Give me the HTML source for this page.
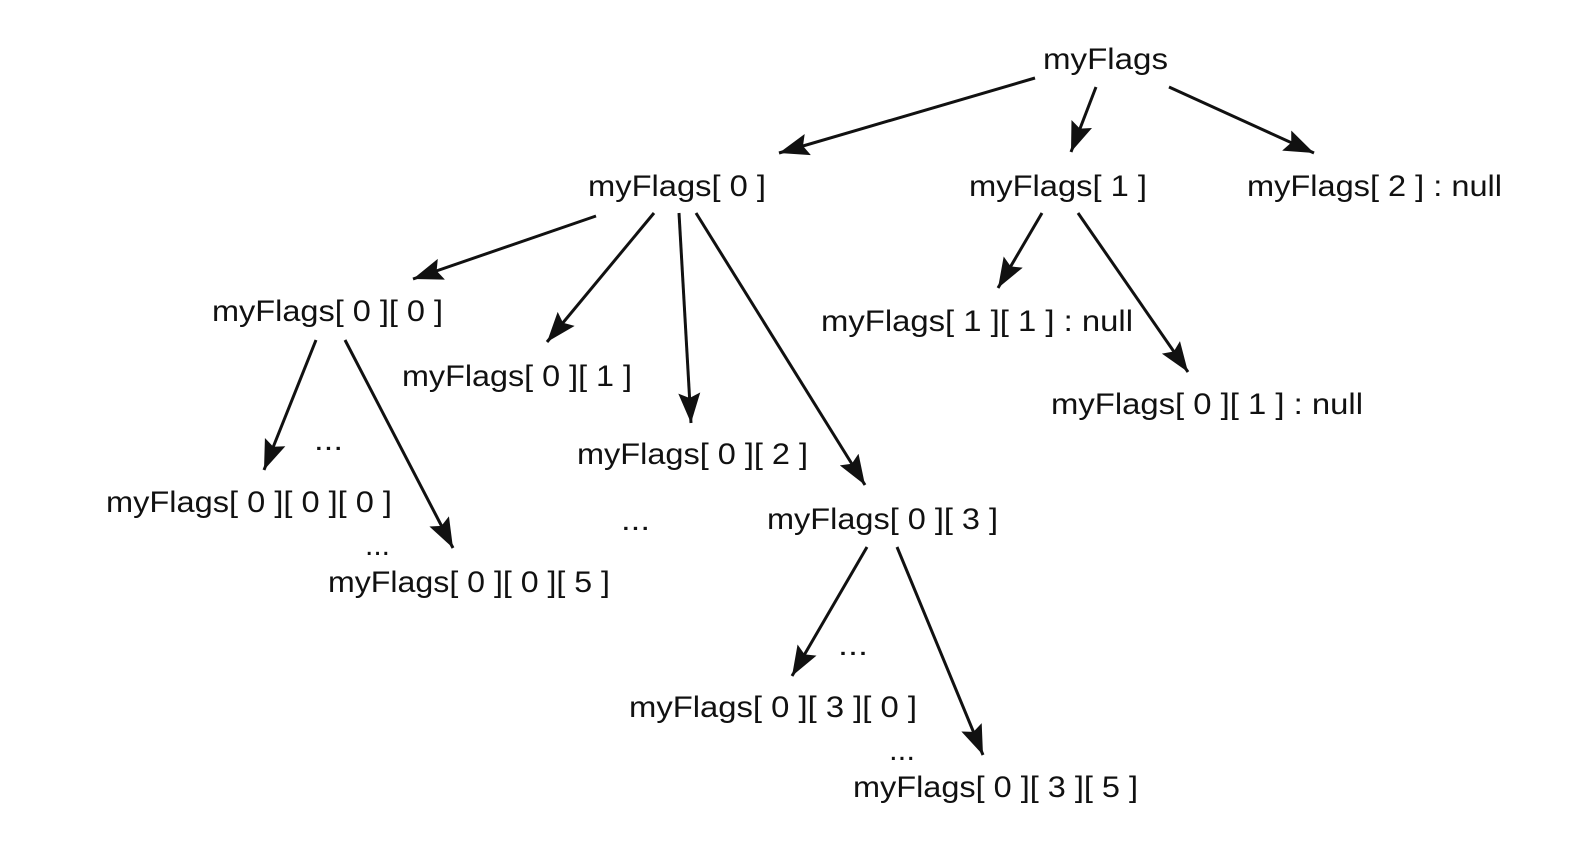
<!DOCTYPE html>
<html><head><meta charset="utf-8"><style>
html,body{margin:0;padding:0;background:#fff;}
svg{display:block;}
text{font-family:"Liberation Sans",Arial,sans-serif;font-size:30px;fill:#111;}
</style></head><body>
<svg width="1591" height="845" viewBox="0 0 1591 845" xmlns="http://www.w3.org/2000/svg">
<defs>
<marker id="a" markerUnits="userSpaceOnUse" markerWidth="34" markerHeight="24" refX="30" refY="11" orient="auto">
<path d="M0,0 L30,11 L0,22 L5,11 Z" fill="#111"/>
</marker>
</defs>
<g stroke="#111" stroke-width="3" marker-end="url(#a)">
<line x1="1035" y1="78" x2="779" y2="153"/>
<line x1="1096" y1="87" x2="1071" y2="152"/>
<line x1="1169" y1="87" x2="1314" y2="153"/>
<line x1="596" y1="216" x2="413" y2="279"/>
<line x1="654" y1="213" x2="547" y2="342"/>
<line x1="679" y1="213" x2="691" y2="423"/>
<line x1="696" y1="213" x2="865" y2="485"/>
<line x1="1042" y1="213" x2="998" y2="288"/>
<line x1="1078" y1="213" x2="1188" y2="372"/>
<line x1="316" y1="340" x2="264" y2="470"/>
<line x1="345" y1="340" x2="453" y2="548"/>
<line x1="867" y1="547" x2="792" y2="676"/>
<line x1="897" y1="547" x2="983" y2="755"/>
</g>
<text x="1043" y="69" textLength="125" lengthAdjust="spacingAndGlyphs">myFlags</text>
<text x="588" y="196" textLength="178" lengthAdjust="spacingAndGlyphs">myFlags[ 0 ]</text>
<text x="969" y="196" textLength="178" lengthAdjust="spacingAndGlyphs">myFlags[ 1 ]</text>
<text x="1247" y="196" textLength="255" lengthAdjust="spacingAndGlyphs">myFlags[ 2 ] : null</text>
<text x="212" y="321" textLength="231" lengthAdjust="spacingAndGlyphs">myFlags[ 0 ][ 0 ]</text>
<text x="402" y="386" textLength="230" lengthAdjust="spacingAndGlyphs">myFlags[ 0 ][ 1 ]</text>
<text x="821" y="331" textLength="312" lengthAdjust="spacingAndGlyphs">myFlags[ 1 ][ 1 ] : null</text>
<text x="1051" y="414" textLength="312" lengthAdjust="spacingAndGlyphs">myFlags[ 0 ][ 1 ] : null</text>
<text x="577" y="464" textLength="231" lengthAdjust="spacingAndGlyphs">myFlags[ 0 ][ 2 ]</text>
<text x="106" y="512" textLength="286" lengthAdjust="spacingAndGlyphs">myFlags[ 0 ][ 0 ][ 0 ]</text>
<text x="328" y="592" textLength="282" lengthAdjust="spacingAndGlyphs">myFlags[ 0 ][ 0 ][ 5 ]</text>
<text x="767" y="529" textLength="231" lengthAdjust="spacingAndGlyphs">myFlags[ 0 ][ 3 ]</text>
<text x="629" y="717" textLength="288" lengthAdjust="spacingAndGlyphs">myFlags[ 0 ][ 3 ][ 0 ]</text>
<text x="853" y="797" textLength="285" lengthAdjust="spacingAndGlyphs">myFlags[ 0 ][ 3 ][ 5 ]</text>
<text x="314" y="450" textLength="29" lengthAdjust="spacingAndGlyphs">...</text>
<text x="621" y="530" textLength="29" lengthAdjust="spacingAndGlyphs">...</text>
<text x="365" y="555" textLength="25" lengthAdjust="spacingAndGlyphs">...</text>
<text x="838" y="655" textLength="30" lengthAdjust="spacingAndGlyphs">...</text>
<text x="889" y="760" textLength="26" lengthAdjust="spacingAndGlyphs">...</text>
</svg>
</body></html>
